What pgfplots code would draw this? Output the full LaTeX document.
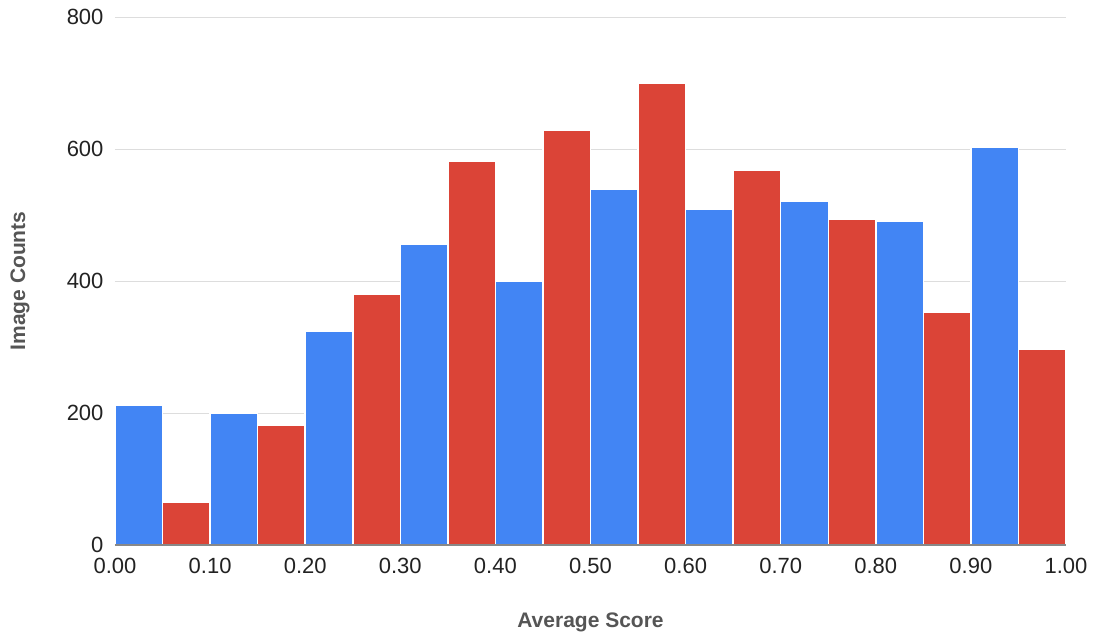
\documentclass[border=0pt]{standalone}
\usepackage{pgfplots}
\pgfplotsset{compat=1.18}
\usepackage{fontspec}
\setmainfont{Liberation Sans}
\definecolor{gblue}{HTML}{4285F4}
\definecolor{gred}{HTML}{DB4437}
\definecolor{gridc}{HTML}{DDDDDD}
\definecolor{axisc}{HTML}{888888}
\definecolor{labc}{HTML}{555555}
\definecolor{tickc}{HTML}{222222}
\begin{document}
\begin{tikzpicture}
\useasboundingbox (-115pt,-96pt) rectangle (980pt,545pt);
\begin{axis}[
  scale only axis,
  width=951pt, height=528pt,
  xmin=0, xmax=1, ymin=0, ymax=800,
  xtick={0,0.1,0.2,0.3,0.4,0.5,0.6,0.7,0.8,0.9,1},
  ytick={0,200,400,600,800},
  xticklabels={0.00,0.10,0.20,0.30,0.40,0.50,0.60,0.70,0.80,0.90,1.00},
  major tick length=0pt,
  ymajorgrids,
  grid style={draw=gridc, line width=1pt},
  axis x line*=bottom,
  axis y line*=left,
  x axis line style={-, draw=none},
  y axis line style={-, draw=none},
  /pgf/number format/assume math mode=true,
  tick label style={font=\fontsize{22}{26}\selectfont, text=tickc},
  xticklabel style={yshift=-10pt},
  yticklabel style={xshift=-8pt},
  every axis x label/.style={at={(axis description cs:0.5,0)}, yshift=-77pt, anchor=center},
  every axis y label/.style={at={(axis description cs:0,0.5)}, xshift=-95pt, rotate=90, anchor=center},
  label style={font=\bfseries\fontsize{21}{25}\selectfont, text=labc},
  xlabel={Average Score},
  ylabel={Image Counts},
  ybar, bar width=0.05, bar shift=0pt,
  clip=false,
]
\addplot[fill=gblue, draw=white, line width=1.5pt] coordinates {
 (0.025,212) (0.125,199) (0.225,324) (0.325,456) (0.425,399)
 (0.525,539) (0.625,508) (0.725,521) (0.825,491) (0.925,603)
};
\addplot[fill=gred, draw=white, line width=1.5pt] coordinates {
 (0.075,65) (0.175,182) (0.275,380) (0.375,582) (0.475,629)
 (0.575,699) (0.675,568) (0.775,494) (0.875,352) (0.975,297)
};
\draw[axisc, line width=1.6pt] (axis cs:0,0) -- (axis cs:1,0);
\end{axis}
\end{tikzpicture}
\end{document}
